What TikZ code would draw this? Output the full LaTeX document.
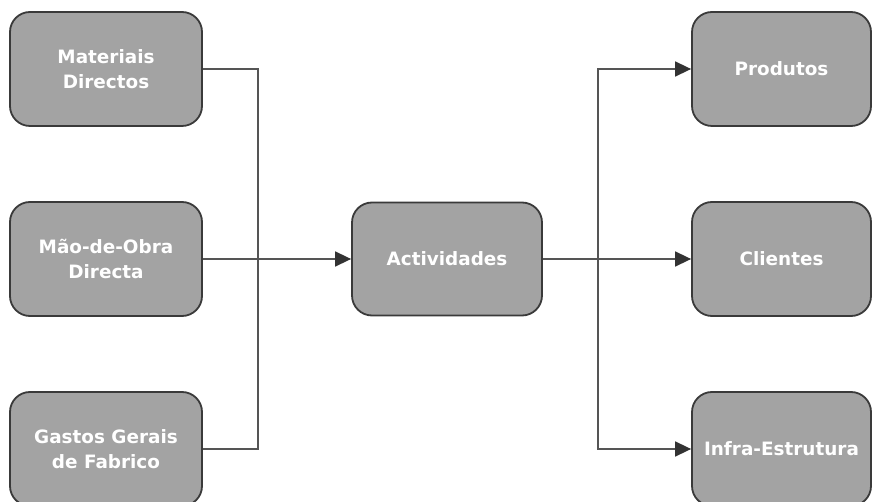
\documentclass[tikz,border=0pt]{standalone}
\usepackage{fontspec}
\setmainfont{DejaVu Sans}
\usetikzlibrary{arrows.meta}
\definecolor{boxfill}{HTML}{A3A3A3}
\definecolor{boxline}{HTML}{3A3A3A}
\definecolor{conn}{HTML}{555555}
\definecolor{tipc}{HTML}{333333}
\tikzset{
  box/.style={draw=boxline, line width=1.8pt, fill=boxfill, rounded corners=20pt,
    text=white, font=\fontsize{18.4}{25}\selectfont\bfseries, align=center,
    inner sep=0pt},
  lbox/.style={box, minimum width=192pt, minimum height=114pt},
  rbox/.style={box, minimum width=179pt, minimum height=114pt},
  cbox/.style={box, minimum width=190pt, minimum height=113pt},
  conn/.style={draw=conn, line width=1.6pt},
  arr/.style={conn, -{Triangle[length=16pt,width=15pt,fill=tipc,color=tipc]}}
}
\begin{document}
\begin{tikzpicture}[x=1pt,y=-1pt]
\useasboundingbox (0,0) rectangle (873,502);
\clip (0,0) rectangle (873,502);
\fill[white] (0,0) rectangle (873,502);
\node[lbox] (mat) at (106,69) {Materiais\\Directos};
\node[lbox] (mao) at (106,259) {Mão-de-Obra\\Directa};
\node[lbox] (gas) at (106,449) {Gastos Gerais\\de Fabrico};
\node[cbox] (act) at (447,259) {Actividades};
\node[rbox] (prod) at (781.5,69) {Produtos};
\node[rbox] (cli) at (781.5,259) {Clientes};
\node[rbox] (inf) at (781.5,449) {Infra-Estrutura};
\coordinate (jl) at (258,259);
\coordinate (jr) at (598,259);
\draw[conn] (mat.east) -| (jl);
\draw[conn] (jl) |- (gas.east);
\draw[arr] (mao.east) -- (act.west);
\draw[conn] (act.east) -- (jr);
\draw[arr] (jr) |- (prod.west);
\draw[arr] (jr) -- (cli.west);
\draw[arr] (jr) |- (inf.west);
\end{tikzpicture}
\end{document}
